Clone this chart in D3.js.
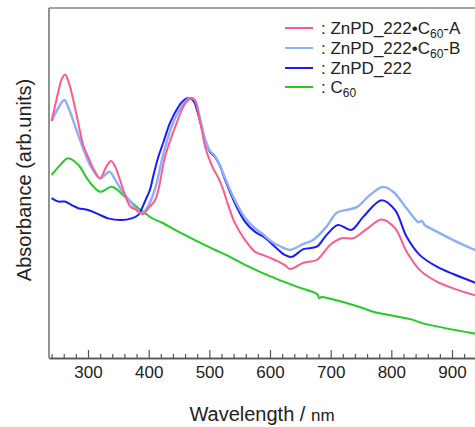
<!DOCTYPE html>
<html>
<head>
<meta charset="utf-8">
<script src="https://cdn.jsdelivr.net/npm/d3@7"></script>
<style>
  html, body { margin: 0; padding: 0; background: #fff; }
  svg { display: block; font-family: "Liberation Sans", Arial, Helvetica, sans-serif; }
</style>
</head>
<body>
<svg id="chart" width="475" height="427"></svg>
<script>
// ---- data ----
const seriesNames = ["ZnPD_222•C60-A", "ZnPD_222•C60-B", "ZnPD_222", "C60"];

const wlA  = [240,251,256,262,268,275,284,292,300,310,320,330,338,345,350,360,370,380,390,400,410,416,427,446,456,462,471,476,485,493,501,506,515,523,531,542,559,575,592,608,624,633,655,677,699,718,737,759,784,806,825,847,875,902,940];
const absA = [0.677,0.760,0.794,0.810,0.789,0.743,0.671,0.609,0.575,0.537,0.514,0.546,0.563,0.546,0.523,0.471,0.432,0.423,0.411,0.429,0.449,0.480,0.575,0.671,0.714,0.731,0.743,0.737,0.674,0.604,0.563,0.543,0.514,0.480,0.437,0.386,0.337,0.304,0.292,0.280,0.266,0.254,0.272,0.280,0.323,0.342,0.342,0.368,0.396,0.371,0.304,0.251,0.218,0.199,0.178];

const wlB  = [240,251,261,268,279,295,305,320,330,336,345,355,372,386,395,410,423,440,455,468,476,485,493,501,509,517,526,542,559,575,586,603,616,633,655,671,693,710,726,743,765,786,803,825,845,850,855,875,902,940];
const absB = [0.677,0.714,0.737,0.714,0.661,0.585,0.546,0.513,0.526,0.532,0.509,0.480,0.442,0.414,0.423,0.480,0.575,0.671,0.720,0.743,0.737,0.682,0.625,0.592,0.578,0.553,0.514,0.451,0.400,0.371,0.357,0.332,0.320,0.309,0.326,0.337,0.375,0.415,0.423,0.431,0.466,0.489,0.475,0.428,0.388,0.392,0.380,0.361,0.337,0.307];

const wlZ  = [240,251,262,273,284,300,317,333,355,372,383,389,395,402,408,416,425,435,449,457,465,472,476,484,493,501,509,517,526,542,559,575,592,608,625,636,655,677,693,712,734,754,784,806,825,847,875,902,940];
const absZ = [0.457,0.447,0.447,0.437,0.428,0.423,0.411,0.399,0.394,0.399,0.409,0.428,0.452,0.480,0.523,0.575,0.620,0.671,0.718,0.735,0.743,0.739,0.728,0.680,0.623,0.589,0.575,0.551,0.509,0.443,0.389,0.361,0.343,0.318,0.294,0.289,0.311,0.318,0.351,0.380,0.366,0.404,0.451,0.423,0.347,0.294,0.261,0.240,0.214];

const wlC  = [240,254,267,284,300,320,339,361,383,394,405,424,449,504,534,559,589,644,678,681,685,693,754,770,831,852,940];
const absC = [0.523,0.551,0.571,0.552,0.509,0.475,0.489,0.461,0.428,0.414,0.400,0.385,0.361,0.313,0.289,0.266,0.242,0.204,0.182,0.171,0.174,0.172,0.142,0.132,0.111,0.099,0.069];

const xTickMajor = [300,400,500,600,700,800,900];
const seriesColors = ["#ff5a8c", "#8eaefc", "#1a1aff", "#22cc22"];

// ---- layout ----
const svg = d3.select("#chart");
const W = 475, H = 427;
const plotLeft = 49, plotTop = 8, plotBottom = 358;

const x = d3.scaleLinear().domain([300, 900]).range([88, 452]);
const xMin = x.invert(plotLeft), xMax = x.invert(W + 10);
const y = d3.scaleLinear().domain([0, 1]).range([plotBottom, plotTop]);

svg.append("defs").append("clipPath").attr("id", "clip")
  .append("rect").attr("x", plotLeft).attr("y", plotTop).attr("width", W - plotLeft + 10).attr("height", plotBottom - plotTop);

// curves
const series = [
  {wl: wlA, v: absA}, {wl: wlB, v: absB}, {wl: wlZ, v: absZ}, {wl: wlC, v: absC}
];
const line = d3.line().x(d => x(d[0])).y(d => y(d[1])).curve(d3.curveCatmullRom.alpha(0.5));
const gLines = svg.append("g").attr("clip-path", "url(#clip)");
[3, 2, 1, 0].forEach(i => {
  const s = series[i];
  gLines.append("path")
    .datum(s.wl.map((w, j) => [w, s.v[j]]))
    .attr("d", line)
    .attr("fill", "none")
    .attr("stroke", seriesColors[i])
    .attr("stroke-width", i === 1 ? 2.4 : 2)
    .attr("stroke-linejoin", "round");
});

// frame (left and top)
svg.append("line").attr("x1", plotLeft).attr("x2", plotLeft).attr("y1", plotTop).attr("y2", plotBottom)
  .attr("stroke", "#777").attr("stroke-width", 1.6);
svg.append("line").attr("x1", plotLeft).attr("x2", W).attr("y1", plotTop).attr("y2", plotTop)
  .attr("stroke", "#888").attr("stroke-width", 1.6);

// bottom axis
const xAxisScale = x.copy().domain([xMin, xMax]).range([x(xMin), x(xMax)]);
const minorTicks = d3.range(240, 951, 20).filter(t => t % 100 !== 0);
const gMinor = svg.append("g").attr("transform", `translate(0,${plotBottom})`)
  .call(d3.axisBottom(xAxisScale).tickValues(minorTicks).tickSize(-4).tickSizeOuter(0).tickFormat(""));
const gMajor = svg.append("g").attr("transform", `translate(0,${plotBottom})`)
  .call(d3.axisBottom(xAxisScale).tickValues(xTickMajor).tickSize(-8).tickSizeOuter(0).tickPadding(8).tickFormat(d3.format("d")));
[gMinor, gMajor].forEach(g => {
  g.select(".domain").attr("stroke", "#555").attr("stroke-width", 1.6);
  g.selectAll(".tick line").attr("stroke", "#555").attr("stroke-width", 1.2);
  g.selectAll(".tick text").attr("font-size", 17).attr("fill", "#222")
    .attr("font-family", "'Liberation Sans', Arial, sans-serif");
});

// axis titles
const xt = svg.append("text").attr("x", 262).attr("y", 421).attr("text-anchor", "middle")
  .attr("font-size", 20).attr("fill", "#222");
xt.append("tspan").text("Wavelength / ");
xt.append("tspan").attr("font-size", 17).text("nm");

svg.append("text").attr("transform", "translate(31,180) rotate(-90)").attr("text-anchor", "middle")
  .attr("font-size", 20).attr("fill", "#222").text("Absorbance (arb.units)");

// legend
const legendY = [28, 48, 68, 87];
const leg = svg.append("g");
seriesNames.forEach((name, i) => {
  const ly = legendY[i];
  leg.append("line").attr("x1", 285).attr("x2", 313).attr("y1", ly).attr("y2", ly)
    .attr("stroke", seriesColors[i]).attr("stroke-width", 2);
  const t = leg.append("text").attr("x", 321).attr("y", ly + 6).attr("font-size", 17).attr("fill", "#222");
  const m = name.match(/^(.*?)C60(.*)$/);
  if (m) {
    t.append("tspan").text(": " + m[1] + "C");
    t.append("tspan").attr("font-size", 12).attr("dy", 4).text("60");
    if (m[2]) t.append("tspan").attr("dy", -4).text(m[2]);
  } else {
    t.text(": " + name);
  }
});
</script>
</body>
</html>
